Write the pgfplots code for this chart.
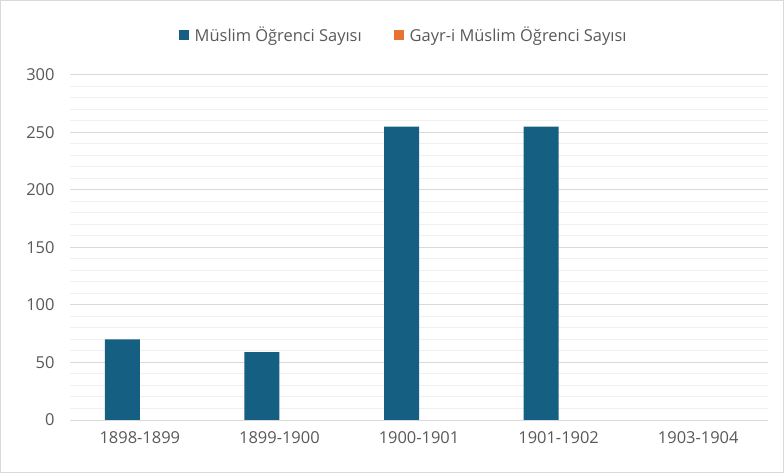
\documentclass[border=0pt]{standalone}
\usepackage{pgfplots}
\pgfplotsset{compat=1.18}
\usepackage{fontspec}
\setmainfont{Open Sans}
\definecolor{barblue}{HTML}{156082}
\definecolor{barorange}{HTML}{E97132}
\definecolor{txtgray}{HTML}{595959}
\definecolor{majgrid}{HTML}{D9D9D9}
\definecolor{mingrid}{HTML}{F0F0F0}
\begin{document}
\begin{tikzpicture}
\path[draw=majgrid, line width=1bp] (0.5bp,0.5bp) rectangle (783.5bp,472.5bp);
\begin{axis}[
at={(70bp,53bp)}, anchor=south west,
scale only axis,
width=698bp, height=345bp,
ybar=0pt, bar width=35bp,
xmin=-0.5, xmax=4.5,
ymin=0, ymax=300,
xtick={0,1,2,3,4},
xticklabels={1898-1899,1899-1900,1900-1901,1901-1902,1903-1904},
ytick={0,50,100,150,200,250,300},
minor ytick={10,20,30,40,60,70,80,90,110,120,130,140,160,170,180,190,210,220,230,240,260,270,280,290},
ymajorgrids, yminorgrids,
major grid style={majgrid, line width=1bp},
minor grid style={mingrid, line width=1bp},
axis x line*=bottom, axis y line*=left,
x axis line style={majgrid, line width=1bp, -},
y axis line style={draw=none},
major tick length=0pt, minor tick length=0pt,
tick style={draw=none},
ticklabel style={font=\fontsize{16.5}{19}\selectfont, text=txtgray},
/pgf/number format/assume math mode=true,
yticklabel style={xshift=-12bp},
xticklabel style={yshift=-8bp},
legend style={at={(0.478,1.0)}, anchor=south, yshift=28bp, draw=none, fill=none,
  legend columns=2, font=\fontsize{16.5}{19}\selectfont, text=txtgray,
  /tikz/every even column/.append style={column sep=30bp},
  /tikz/every odd column/.append style={column sep=4bp}},
legend image code/.code={\fill[#1] (0bp,-5bp) rectangle (10bp,5bp);},
]
\addplot[fill=barblue, draw=none] coordinates {(0,70) (1,59) (2,255) (3,255) (4,0)};
\addlegendentry{Müslim Öğrenci Sayısı}
\addplot[fill=barorange, draw=none] coordinates {(0,0) (1,0) (2,0) (3,0) (4,0)};
\addlegendentry{Gayr-i Müslim Öğrenci Sayısı}
\end{axis}
\end{tikzpicture}
\end{document}
